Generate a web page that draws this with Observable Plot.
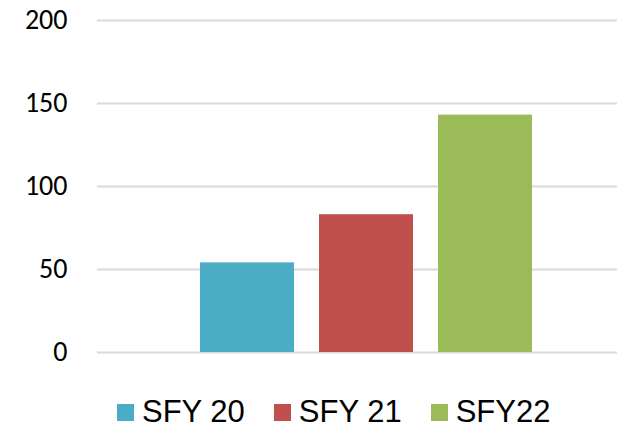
<!DOCTYPE html>
<html>
<head>
<meta charset="utf-8">
<script src="https://cdn.jsdelivr.net/npm/d3@7"></script>
<script src="https://cdn.jsdelivr.net/npm/@observablehq/plot@0.6"></script>
<style>
  html, body { margin: 0; padding: 0; background: #fff; overflow: hidden; }
  #chart svg { display: block; }
  .legend { display: flex; align-items: center; margin-top: 24px; padding-left: 117px;
            font-family: "Liberation Sans", Arial, sans-serif; font-size: 31px; line-height: 26px; color: #000; }
  .legend .sw { width: 17px; height: 17px; margin-right: 8px; flex: none; }
  .legend .item { display: flex; align-items: center; margin-right: 29px; }
</style>
</head>
<body>
<div id="chart"></div>
<script>
const years = ["SFY 20", "SFY 21", "SFY22"];
const values = [54, 83, 143];
const colors = ["#4BACC6", "#C0504D", "#9BBB59"];
const yTicks = [0, 50, 100, 150, 200];

const data = years.map((year, i) => ({year, value: values[i]}));

const chart = Plot.plot({
  width: 617,
  height: 375,
  marginTop: 20,
  marginBottom: 23,
  marginLeft: 97,
  marginRight: 0,
  x: {domain: years, range: [200, 532], paddingInner: 0.214, paddingOuter: 0, axis: null},
  y: {domain: [0, 200]},
  color: {domain: years, range: colors},
  style: {fontFamily: "Carlito, Calibri, Lato, sans-serif", background: "#fff"},
  marks: [
    Plot.gridY(yTicks, {stroke: "#d9d9d9", strokeOpacity: 1, strokeWidth: 2}),
    Plot.axisY(yTicks, {tickSize: 0, tickPadding: 30, fontSize: 28, fill: "#000", label: null}),
    Plot.barY(data, {x: "year", y: "value", fill: "year"})
  ]
});
document.getElementById("chart").appendChild(chart);

const legend = document.createElement("div");
legend.className = "legend";
years.forEach((y, i) => {
  const item = document.createElement("div");
  item.className = "item";
  const sw = document.createElement("div");
  sw.className = "sw";
  sw.style.background = colors[i];
  const t = document.createElement("span");
  t.textContent = y;
  item.appendChild(sw);
  item.appendChild(t);
  legend.appendChild(item);
});
document.body.appendChild(legend);
</script>
</body>
</html>
